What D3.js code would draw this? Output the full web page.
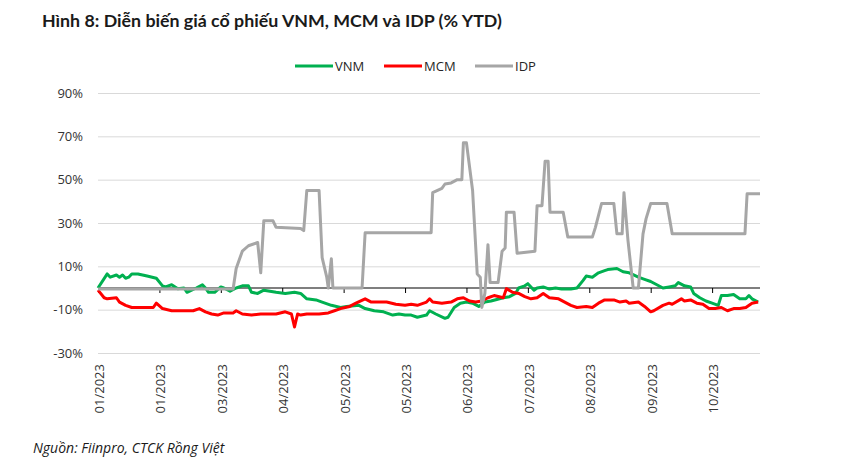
<!DOCTYPE html>
<html>
<head>
<meta charset="utf-8">
<script src="https://cdn.jsdelivr.net/npm/d3@7"></script>
<style>
  body { margin: 0; background: #fff; }
  svg { display: block; }
</style>
</head>
<body>
<svg width="852" height="473"></svg>
<script>
// x = trading day index since start of 2023, y = % YTD
var vnm = [[0,0],[3,6.5],[4,5],[6,6],[7,5],[8,6],[9,4.5],[10,5],[11,6.5],[13,6.5],[16,5.5],[19,4.5],
  [21,1],[22,0.5],[24,1.5],[26,-0.3],[28,0],[29,-2],[32,0],[34,1.5],[35,0],[36,-2],[38,-2],[40,0.5],
  [41,0],[43,-1.5],[45,0],[47,1],[49,1],[50,-2],[52,-2.5],[54,-1],[58,-2],[61,-2.5],[64,-2],[66,-2.5],
  [68,-5],[71,-5.5],[73,-6.5],[76,-8],[79,-9],[81,-8.5],[85,-8],[87,-9.5],[90,-10.5],[93,-11],[96,-12.5],
  [98,-12],[100,-12.5],[102,-12.5],[104,-13.5],[107,-12.5],[108,-10.5],[110,-12],[113,-14],[114,-13.5],
  [116,-9],[118,-7],[120,-6.5],[122,-7],[124,-8.5],[126,-6.5],[128,-6],[132,-4.5],[134,-4],[136,-2.5],
  [137,0],[139,1],[140,2],[142,-1],[143,0],[145,0.5],[147,-0.5],[149,0],[151,-0.5],[154,-0.5],[156,0],
  [158,3.5],[159,5.5],[161,5],[163,7],[165,8],[166,8.5],[169,9],[171,7.5],[173,7],[176,5],[178,4],
  [180,3],[182,1.5],[184,0],[186,0.5],[188,1],[189,2.5],[191,1],[193,0.5],[194,-2.5],[196,-4.5],
  [198,-6],[200,-7],[202,-8],[203,-3.5],[205,-3.5],[207,-3],[209,-5],[211,-5],[212,-3.5],[213,-5],[215,-6.5]];

var mcm = [[0,-1],[2,-4.5],[3,-5],[6,-4.5],[7,-6.5],[9,-8],[11,-9],[15,-9],[18,-9],[19,-7],[21,-9.5],
  [24,-10.5],[31,-10.5],[33,-9.5],[35,-11],[37,-12],[39,-12.5],[41,-11.5],[44,-11.5],[45,-10.5],[47,-12],
  [50,-12.5],[53,-12],[58,-12],[61,-11],[63,-12],[64,-18],[65,-12],[66,-12.5],[68,-12],[72,-12],[75,-11.5],
  [77,-10.5],[79,-9.5],[82,-8.5],[84,-7],[87,-5],[89,-6.5],[94,-6.5],[97,-7.5],[100,-8],[102,-7.5],
  [104,-8],[107,-6.5],[108,-5],[109,-6.5],[112,-7],[115,-6.5],[117,-5],[119,-4.5],[121,-6],[123,-6.5],
  [125,-6],[127,-4.5],[129,-3.5],[132,-4.5],[133,-0.3],[135,-2],[137,-2.5],[139,-4],[141,-5],[143,-4.5],
  [145,-2.5],[147,-4.5],[150,-5],[152,-6.5],[154,-8],[156,-9],[159,-8.5],[161,-9],[163,-7],[165,-5.5],
  [168,-5.5],[170,-6.5],[172,-6],[173,-7],[176,-6.5],[178,-8.5],[180,-11],[181,-10.5],[184,-8],[186,-7],
  [187,-7.5],[190,-5],[191,-6],[193,-5.5],[195,-7],[197,-7.5],[199,-9.5],[201,-9.5],[203,-9],[205,-10.5],
  [207,-9.5],[209,-9.5],[211,-9],[213,-7],[215,-6.5]];

var idp = [[0,-0.5],[44,-0.5],[45,9],[47,17],[49,19.5],[52,21],[53,7],[54,31],[57,31],[58,28],[66,27.5],
  [67,26.5],[68,45],[72,45],[73,14],[74.5,5],[75,0],[76,13.5],[76.5,0],[86,0],[87,25.5],[108.5,25.5],
  [109,44],[112,46],[113,48],[115,48.5],[117,50],[118.5,50],[119,67],[120,67],[122,45],[123.5,6.5],
  [124.5,5],[125,-9],[126,-2.5],[127,20],[127.7,2.5],[130.3,2.5],[131.6,17],[132.6,18.5],[133,35],
  [135.5,35],[136.5,16],[142.3,17],[143,38],[144.6,38],[145.6,58.5],[146.6,58.5],[147.2,35],[151.5,35],
  [153,23.5],[161,23.5],[162,28],[164,39],[168,39],[169,25],[170.7,25],[171.3,44],[172.6,22],[174.3,0],
  [176,0],[177.5,25],[178.5,32],[180,39],[185.3,39],[187,25],[210.7,25],[211.4,43.5],[215.6,43.5]];

var tickDays = [0, 20, 40, 60, 80, 100, 120, 140, 160, 180, 200];
var tickLabels = ['01/2023','01/2023','03/2023','04/2023','05/2023','05/2023','06/2023','07/2023','08/2023','09/2023','10/2023'];
var yTicks = [-30, -10, 10, 30, 50, 70, 90];

var series = [
  {name: 'VNM', color: '#00b050', data: vnm},
  {name: 'MCM', color: '#ff0000', data: mcm},
  {name: 'IDP', color: '#a6a6a6', data: idp}
];

var svg = d3.select('svg');

var x = d3.scaleLinear().domain([0, 215.6]).range([98, 760]);
var y = d3.scaleLinear().domain([-30, 90]).range([353, 93]);

// title
svg.append('text')
    .attr('x', 42)
    .attr('y', 27)
    .attr('font-family', 'Lato')
    .attr('font-weight', 'bold')
    .attr('font-size', 17.8)
    .attr('fill', '#1a1a1a')
    .text('Hình 8: Diễn biến giá cổ phiếu VNM, MCM và IDP (% YTD)');

// legend
var legendX = [295, 384, 475];
var legend = svg.selectAll('.legend')
    .data(series)
    .enter()
    .append('g')
    .attr('class', 'legend')
    .attr('transform', function(d, i) {
        return 'translate(' + [legendX[i], 66] + ')';
    });

legend.append('line')
    .attr('x1', 0)
    .attr('x2', 38)
    .attr('stroke', function(d) { return d.color; })
    .attr('stroke-width', 3);

legend.append('text')
    .attr('x', 40)
    .attr('y', 5)
    .attr('font-family', 'Open Sans')
    .attr('font-size', 13)
    .attr('fill', '#262626')
    .text(function(d) { return d.name; });

// gridlines + y labels
var yAxis = d3.axisLeft(y)
    .tickValues(yTicks)
    .tickSize(-(760 - 98))
    .tickPadding(15)
    .tickFormat(function(d) { return d + '%'; });

var gy = svg.append('g')
    .attr('transform', 'translate(98,0)')
    .call(yAxis);
gy.select('.domain').remove();
gy.selectAll('.tick line').attr('stroke', '#d9d9d9').attr('stroke-width', 1);
gy.selectAll('.tick text')
    .attr('font-family', 'Open Sans')
    .attr('font-size', 13)
    .attr('fill', '#333');

// zero axis with ticks
var xAxis = d3.axisBottom(x)
    .tickValues(tickDays)
    .tickSize(5)
    .tickFormat('');

var gx = svg.append('g')
    .attr('transform', 'translate(0,' + y(0) + ')')
    .call(xAxis);
gx.select('.domain').attr('stroke', '#000').attr('stroke-width', 1.2)
    .attr('d', 'M' + x.range()[0] + ',0H' + x.range()[1]);
gx.selectAll('.tick line').attr('stroke', '#000');

// x labels at the bottom
svg.selectAll('.xlabel')
    .data(tickDays)
    .enter()
    .append('text')
    .attr('class', 'xlabel')
    .attr('transform', function(d) {
        return 'translate(' + [x(d) + 6, 364] + ') rotate(-90)';
    })
    .attr('text-anchor', 'end')
    .attr('font-family', 'Open Sans')
    .attr('font-size', 13)
    .attr('fill', '#333')
    .text(function(d, i) { return tickLabels[i]; });

// lines
var line = d3.line()
    .x(function(d) { return x(d[0]); })
    .y(function(d) { return y(d[1]); });

svg.selectAll('.series')
    .data(series)
    .enter()
    .append('path')
    .attr('class', 'series')
    .attr('d', function(d) { return line(d.data); })
    .attr('fill', 'none')
    .attr('stroke', function(d) { return d.color; })
    .attr('stroke-width', 3)
    .attr('stroke-linejoin', 'round');

// source
svg.append('text')
    .attr('x', 33)
    .attr('y', 453)
    .attr('font-family', 'Open Sans')
    .attr('font-style', 'italic')
    .attr('font-size', 14)
    .attr('fill', '#1a1a1a')
    .text('Nguồn: Fiinpro, CTCK Rồng Việt');
</script>
</body>
</html>
